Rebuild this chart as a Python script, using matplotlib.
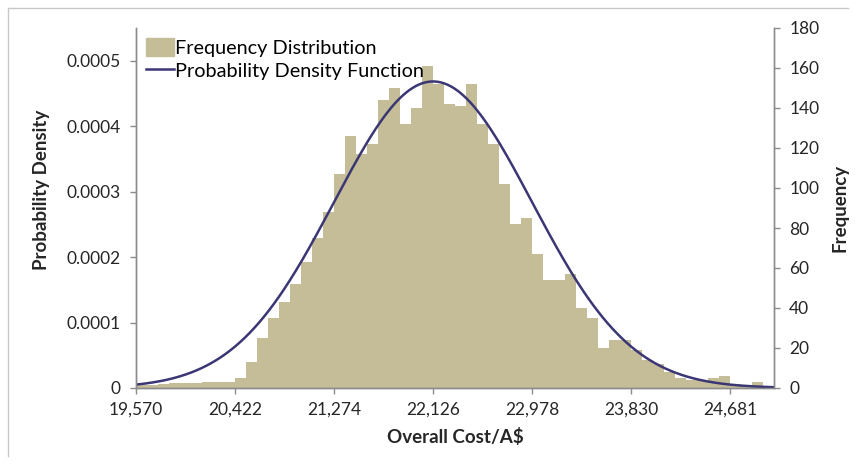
import numpy as np
import matplotlib
matplotlib.use('Agg')
import matplotlib.pyplot as plt
from matplotlib.lines import Line2D

plt.rcParams['font.family'] = ['Lato', 'DejaVu Sans']

# histogram: 58 equal bins starting at 19,570 (9 bins per labelled step)
bin_start = 19570
label_step = 851.83
bin_width = label_step / 9
freq = [1.5, 1.5, 2, 2.5, 2.5, 2.5, 3, 3, 3, 5,
        13, 25, 35, 43, 52, 63, 75, 88, 107, 126,
        117, 122, 144, 150, 132, 140, 161, 152, 142, 141,
        152, 132, 122, 102, 82, 85, 67, 54, 54, 57,
        40, 35, 20, 24, 24, 19, 14, 12, 8, 5,
        4, 4, 5, 6, 2, 1, 3, 1]

# fitted normal distribution
pdf_mean = 22126
pdf_sd = 851.83

x_labels = ['19,570', '20,422', '21,274', '22,126', '22,978', '23,830', '24,681']
dens_ticks = [0, 0.0001, 0.0002, 0.0003, 0.0004, 0.0005]
dens_labels = ['0', '0.0001', '0.0002', '0.0003', '0.0004', '0.0005']
freq_ticks = list(range(0, 181, 20))

bar_color = '#C4BD97'
line_color = '#3B3775'
axis_gray = '#8C8C8C'
text_color = '#262626'

edges = bin_start + bin_width * np.arange(len(freq))
x_max = bin_start + bin_width * len(freq)
xs = np.linspace(bin_start, x_max, 400)
pdf = np.exp(-0.5 * ((xs - pdf_mean) / pdf_sd) ** 2) / (pdf_sd * np.sqrt(2 * np.pi))

W, H = 855, 468
fig = plt.figure(figsize=(W / 100, H / 100), dpi=100)
ax = fig.add_axes([136 / W, 1 - 388 / H, (774 - 136) / W, (388 - 28) / H])
ax2 = ax.twinx()

ax2.bar(edges, freq, width=bin_width, align='edge', color=bar_color, linewidth=0)
ax.plot(xs, pdf, color=line_color, lw=1.8)
ax.set_zorder(ax2.get_zorder() + 1)
ax.patch.set_visible(False)

ax.set_xlim(bin_start, x_max)
ax.set_ylim(0, 0.00055)
ax2.set_ylim(0, 180)

ax.set_xticks([bin_start + k * label_step for k in range(len(x_labels))])
ax.set_xticklabels(x_labels)
ax.set_yticks(dens_ticks)
ax.set_yticklabels(dens_labels)
ax2.set_yticks(freq_ticks)

for a in (ax, ax2):
    for s in a.spines.values():
        s.set_color(axis_gray)
        s.set_linewidth(1.0)
    a.spines['top'].set_visible(False)
    a.tick_params(colors=axis_gray, labelcolor=text_color, labelsize=12.5,
                  length=4, width=1.0, direction='out', pad=7)
ax.tick_params(axis='x', pad=6)

fig.text(455 / W, 1 - 437 / H, 'Overall Cost/A$', fontsize=13.5, fontweight='bold',
         color=text_color, ha='center', va='center')
fig.text(42 / W, 1 - 190 / H, 'Probability Density', fontsize=13.5, fontweight='bold',
         color=text_color, ha='center', va='center', rotation=90)
fig.text(840 / W, 1 - 208 / H, 'Frequency', fontsize=13.5, fontweight='bold',
         color=text_color, ha='center', va='center', rotation=90)

handles = [plt.Rectangle((0, 0), 1, 1, color=bar_color),
           Line2D([0], [0], color=line_color, lw=1.8)]
ax.legend(handles, ['Frequency Distribution', 'Probability Density Function'],
          loc='upper left', bbox_to_anchor=(0.0, 1.0), frameon=False,
          fontsize=14.3, handlelength=1.4, handleheight=1.0, handletextpad=0.05,
          labelspacing=0.25, borderaxespad=0.3, borderpad=0.2)

# faint chart-area border (top and left)
fig.add_artist(Line2D([8 / W, 8 / W], [1 - 8 / H, 1 - 456 / H],
                      color='#C8C8C8', lw=1.0))
fig.add_artist(Line2D([8 / W, 848 / W], [1 - 8 / H, 1 - 8 / H],
                      color='#C8C8C8', lw=1.0))

fig.savefig('out.png', dpi=100, facecolor='white')
